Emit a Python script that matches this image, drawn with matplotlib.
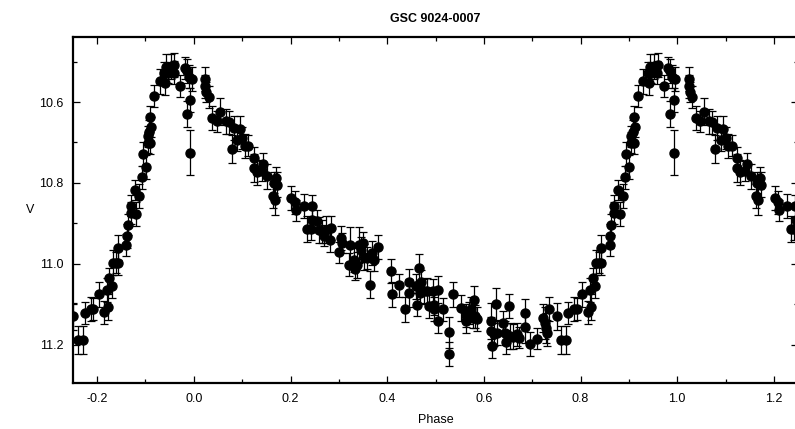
import numpy as np
import matplotlib
matplotlib.use("Agg")
import matplotlib.pyplot as plt
import matplotlib.ticker as ticker

plt.rcParams["font.family"] = ["Liberation Sans", "DejaVu Sans"]

# phase-folded V magnitudes, one cycle (0..1); the plot repeats it at -1 and +1
phase = [
    0.024, 0.024, 0.026, 0.031, 0.038, 0.048, 0.055, 0.066, 0.073, 0.079,
    0.083, 0.090, 0.095, 0.100, 0.106, 0.113, 0.124, 0.124, 0.131, 0.140,
    0.144, 0.152, 0.166, 0.171, 0.164, 0.168, 0.173, 0.202, 0.209, 0.211,
    0.228, 0.244, 0.235, 0.242, 0.245, 0.255, 0.259, 0.266, 0.269, 0.274,
    0.283, 0.282, 0.300, 0.304, 0.307, 0.323, 0.321, 0.332, 0.334, 0.338,
    0.342, 0.345, 0.349, 0.352, 0.359, 0.364, 0.369, 0.373, 0.380, 0.408,
    0.411, 0.425, 0.437, 0.445, 0.445, 0.459, 0.461, 0.466, 0.471, 0.468,
    0.477, 0.483, 0.487, 0.494, 0.496, 0.497, 0.506, 0.506, 0.516, 0.528,
    0.528, 0.537, 0.553, 0.563, 0.563, 0.570, 0.573, 0.577, 0.580, 0.582,
    0.585, 0.615, 0.615, 0.616, 0.622, 0.626, 0.628, 0.640, 0.644, 0.646,
    0.653, 0.654, 0.661, 0.668, 0.672, 0.686, 0.686, 0.696, 0.709, 0.723,
    0.727, 0.729, 0.730, 0.734, 0.751, 0.760, 0.771, 0.775, 0.787, 0.792,
    0.804, 0.815, 0.820, 0.822, 0.825, 0.830, 0.832, 0.838, 0.843, 0.843,
    0.860, 0.861, 0.863, 0.870, 0.881, 0.870, 0.878, 0.887, 0.892, 0.894,
    0.901, 0.905, 0.910, 0.905, 0.908, 0.912, 0.910, 0.918, 0.929, 0.939,
    0.941, 0.946, 0.953, 0.959, 0.960, 0.943, 0.972, 0.981, 0.986, 0.989,
    0.993, 0.996, 0.986, 0.993,
]
vmag = [
    10.543, 10.561, 10.576, 10.588, 10.640, 10.648, 10.624, 10.648, 10.650, 10.716,
    10.664, 10.693, 10.667, 10.689, 10.708, 10.708, 10.738, 10.763, 10.774, 10.770,
    10.753, 10.784, 10.800, 10.788, 10.833, 10.843, 10.804, 10.837, 10.848, 10.868,
    10.858, 10.858, 10.914, 10.914, 10.891, 10.893, 10.917, 10.920, 10.931, 10.916,
    10.912, 10.940, 10.972, 10.936, 10.949, 10.953, 11.002, 10.990, 11.013, 11.002,
    10.953, 10.965, 10.949, 10.984, 10.986, 11.052, 10.973, 10.990, 10.958, 11.017,
    11.076, 11.053, 11.113, 11.045, 11.072, 11.056, 11.101, 11.010, 11.045, 11.072,
    11.068, 11.068, 11.105, 11.068, 11.101, 11.112, 11.064, 11.142, 11.113, 11.170,
    11.224, 11.076, 11.109, 11.128, 11.142, 11.122, 11.113, 11.134, 11.090, 11.130,
    11.136, 11.142, 11.167, 11.204, 11.175, 11.099, 11.171, 11.146, 11.171, 11.194,
    11.104, 11.178, 11.180, 11.175, 11.183, 11.123, 11.157, 11.198, 11.185, 11.134,
    11.146, 11.159, 11.171, 11.112, 11.130, 11.188, 11.188, 11.122, 11.112, 11.112,
    11.076, 11.120, 11.064, 11.107, 11.035, 11.056, 10.997, 10.997, 10.960, 10.997,
    10.953, 10.931, 10.903, 10.874, 10.876, 10.856, 10.817, 10.832, 10.786, 10.728,
    10.761, 10.701, 10.701, 10.685, 10.675, 10.662, 10.637, 10.584, 10.549, 10.528,
    10.553, 10.528, 10.512, 10.527, 10.508, 10.512, 10.561, 10.516, 10.524, 10.537,
    10.594, 10.543, 10.629, 10.725,
]
verr = [
    0.030, 0.028, 0.025, 0.027, 0.030, 0.026, 0.033, 0.030, 0.028, 0.035,
    0.030, 0.028, 0.032, 0.027, 0.030, 0.026, 0.028, 0.035, 0.030, 0.025,
    0.027, 0.030, 0.026, 0.028, 0.030, 0.036, 0.032, 0.030, 0.028, 0.025,
    0.030, 0.027, 0.032, 0.028, 0.030, 0.025, 0.032, 0.029, 0.026, 0.033,
    0.030, 0.032, 0.027, 0.030, 0.025, 0.045, 0.028, 0.030, 0.026, 0.032,
    0.045, 0.030, 0.028, 0.032, 0.028, 0.033, 0.030, 0.027, 0.030, 0.030,
    0.030, 0.028, 0.030, 0.032, 0.035, 0.030, 0.028, 0.033, 0.030, 0.027,
    0.030, 0.032, 0.028, 0.030, 0.026, 0.030, 0.033, 0.030, 0.028, 0.038,
    0.030, 0.030, 0.032, 0.028, 0.030, 0.027, 0.030, 0.026, 0.035, 0.028,
    0.030, 0.045, 0.035, 0.030, 0.028, 0.040, 0.030, 0.028, 0.030, 0.030,
    0.030, 0.032, 0.030, 0.028, 0.026, 0.035, 0.040, 0.030, 0.025, 0.035,
    0.040, 0.038, 0.032, 0.030, 0.033, 0.035, 0.035, 0.028, 0.030, 0.027,
    0.030, 0.028, 0.030, 0.032, 0.025, 0.028, 0.030, 0.027, 0.030, 0.030,
    0.027, 0.030, 0.025, 0.028, 0.030, 0.027, 0.025, 0.030, 0.028, 0.030,
    0.030, 0.026, 0.028, 0.027, 0.030, 0.025, 0.028, 0.027, 0.030, 0.028,
    0.030, 0.026, 0.030, 0.028, 0.030, 0.032, 0.027, 0.028, 0.030, 0.028,
    0.030, 0.030, 0.032, 0.055,
]

ph = np.array(phase)
v = np.array(vmag)
e = np.array(verr)

fig = plt.figure(figsize=(7.95, 4.29), dpi=100)
ax = fig.add_axes([73 / 795, 1 - 383 / 429, (798 - 73) / 795, (383 - 37) / 429])

for shift in (-1, 0, 1):
    ax.errorbar(ph + shift, v, yerr=e, fmt="o", color="black", ms=6.5,
                ecolor="black", elinewidth=0.9, capsize=3, capthick=0.9)

ax.set_xlim(-0.25, 1.25)
ax.set_ylim(11.295, 10.439)

ax.xaxis.set_major_locator(ticker.MultipleLocator(0.2))
ax.xaxis.set_minor_locator(ticker.MultipleLocator(0.1))
ax.yaxis.set_major_locator(ticker.MultipleLocator(0.2))
ax.yaxis.set_minor_locator(ticker.MultipleLocator(0.1))
ax.xaxis.set_major_formatter(ticker.FormatStrFormatter("%.1f"))
ax.yaxis.set_major_formatter(ticker.FormatStrFormatter("%.1f"))

ax.tick_params(which="both", direction="in", top=True, right=True,
               labelsize=9, width=0.9)
ax.tick_params(which="major", length=5, pad=7)
ax.tick_params(which="minor", length=3)

for side in ("left", "bottom", "top"):
    ax.spines[side].set_linewidth(1.6)

ax.set_title("GSC 9024-0007", fontsize=9, fontweight="bold", pad=11)
ax.set_xlabel("Phase", fontsize=9)
ax.xaxis.set_label_coords(0.5, -0.09)
ax.set_ylabel("V", fontsize=9, rotation=0, va="center", ha="center")
ax.yaxis.set_label_coords(-0.059, 0.5)

fig.savefig("out.png", dpi=100)
